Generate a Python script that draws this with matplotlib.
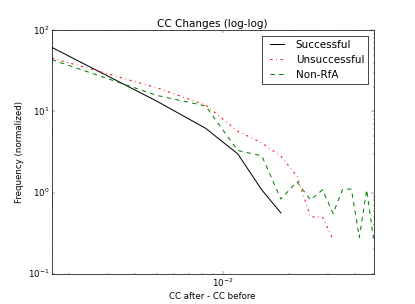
import matplotlib
matplotlib.use("Agg")
import matplotlib.pyplot as plt
from matplotlib.ticker import NullFormatter

plt.style.use("classic")

# bin centres of CC change (width 1/300)
cc_change = [1 / 600, 3 / 600, 5 / 600, 7 / 600, 9 / 600, 11 / 600, 13 / 600, 15 / 600,
             17 / 600, 19 / 600, 21 / 600, 23 / 600, 25 / 600, 27 / 600, 29 / 600]

successful = [61.7, 13.4, 6.2, 3.0, 1.08, 0.56]
unsuccessful = [45.6, 19.6, 12.0, 5.7, 4.1, 2.8, 1.6, 0.5, 0.5, 0.26]
non_rfa = [43.5, 15.8, 11.7, 3.3, 2.84, 0.83, 1.36, 0.81, 1.08, 0.55,
           1.1, 1.1, 0.28, 1.08, 0.27]

fig = plt.figure(figsize=(8, 304 / 51.875), dpi=51.875)
fig.patch.set_facecolor("white")
ax = fig.add_subplot(111)

ax.plot(cc_change[:len(successful)], successful, "k-", lw=1.4, label="Successful")
ax.plot(cc_change[:len(unsuccessful)], unsuccessful, "r-.", lw=1.4, label="Unsuccessful")
ax.plot(cc_change[:len(non_rfa)], non_rfa, "g--", lw=1.4, label="Non-RfA")

ax.set_xscale("log")
ax.set_yscale("log")
ax.set_xlim(cc_change[0], cc_change[-1])
ax.set_ylim(0.1, 100)
ax.xaxis.set_minor_formatter(NullFormatter())

ax.set_title("CC Changes (log-log)")
ax.set_xlabel("CC after - CC before")
ax.set_ylabel("Frequency (normalized)")
ax.legend(loc="upper right")

fig.savefig("out.png", dpi=51.875, facecolor="white")
